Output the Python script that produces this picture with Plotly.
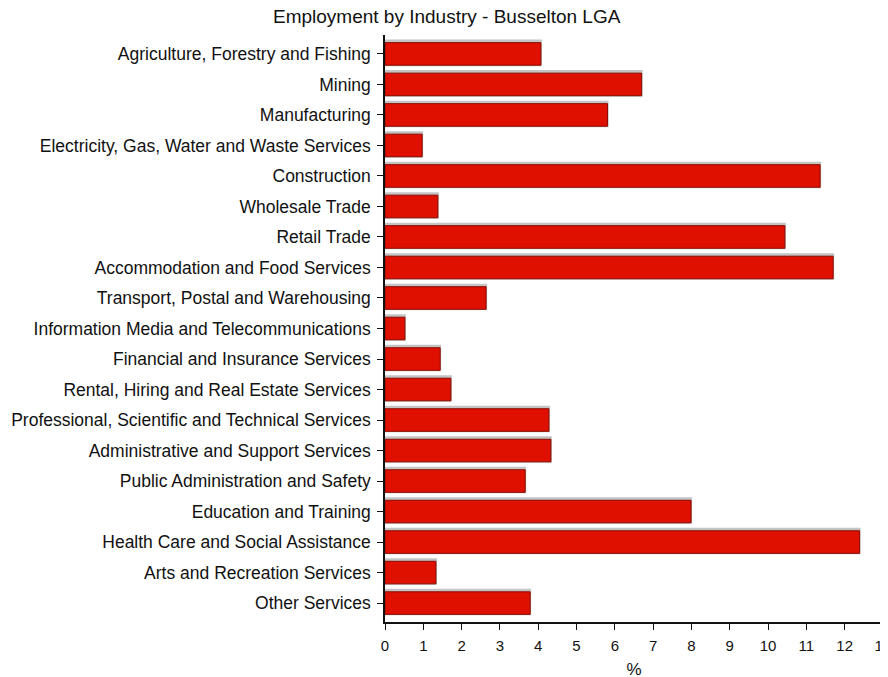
"""Employment by Industry - Busselton LGA bar chart."""

import plotly.graph_objects as go

industries = [
    "Agriculture, Forestry and Fishing",
    "Mining",
    "Manufacturing",
    "Electricity, Gas, Water and Waste Services",
    "Construction",
    "Wholesale Trade",
    "Retail Trade",
    "Accommodation and Food Services",
    "Transport, Postal and Warehousing",
    "Information Media and Telecommunications",
    "Financial and Insurance Services",
    "Rental, Hiring and Real Estate Services",
    "Professional, Scientific and Technical Services",
    "Administrative and Support Services",
    "Public Administration and Safety",
    "Education and Training",
    "Health Care and Social Assistance",
    "Arts and Recreation Services",
    "Other Services",
]
pct = [4.07, 6.70, 5.81, 0.97, 11.36, 1.38, 10.44, 11.70, 2.64, 0.52,
       1.44, 1.72, 4.28, 4.33, 3.66, 7.99, 12.39, 1.33, 3.79]
x_ticks = list(range(0, 14))

font = "Liberation Sans, Arial, sans-serif"
fig = go.Figure()

# 影子（灰色，往上、往右各突出一點）
fig.add_trace(go.Bar(
    x=pct, y=industries, orientation="h", width=0.806, offset=-0.436,
    marker=dict(color="#c4c4c4", line=dict(color="#c4c4c4", width=2)),
    hoverinfo="skip", showlegend=False,
))
# 主體
fig.add_trace(go.Bar(
    x=pct, y=industries, orientation="h", width=0.74, offset=-0.37,
    marker=dict(color="#e01000", line=dict(color="#8a0a00", width=1)),
    showlegend=False,
))

# 頁面 body 有 8px 邊距，版面往左上移補回
fig.update_layout(
    barmode="overlay",
    width=888, height=677,
    margin=dict(l=377, r=13, t=27, b=63),
    plot_bgcolor="white", paper_bgcolor="white",
    font=dict(family=font, size=16, color="#111"),
    title=dict(text="Employment by Industry - Busselton LGA", x=0.494, xanchor="center",
               y=0.987, yanchor="middle", font=dict(size=19, color="#111")),
)
fig.update_xaxes(
    range=[0, 13.001], tickvals=x_ticks, ticks="outside", ticklen=6, tickcolor="#111",
    showline=True, linecolor="#111", linewidth=1.5, showgrid=False, zeroline=False,
    tickfont=dict(size=15), ticklabelstandoff=3,
    title=dict(text="%", font=dict(size=17), standoff=10),
    automargin=False,
)
fig.update_yaxes(
    categoryorder="array", categoryarray=industries,
    range=[18.62, -0.62], ticks="outside", ticklen=6, tickcolor="#111",
    showline=True, linecolor="#111", linewidth=1.5, showgrid=False,
    tickfont=dict(size=17.5), ticklabelstandoff=3, automargin=False,
)
fig.write_html("out.html")
